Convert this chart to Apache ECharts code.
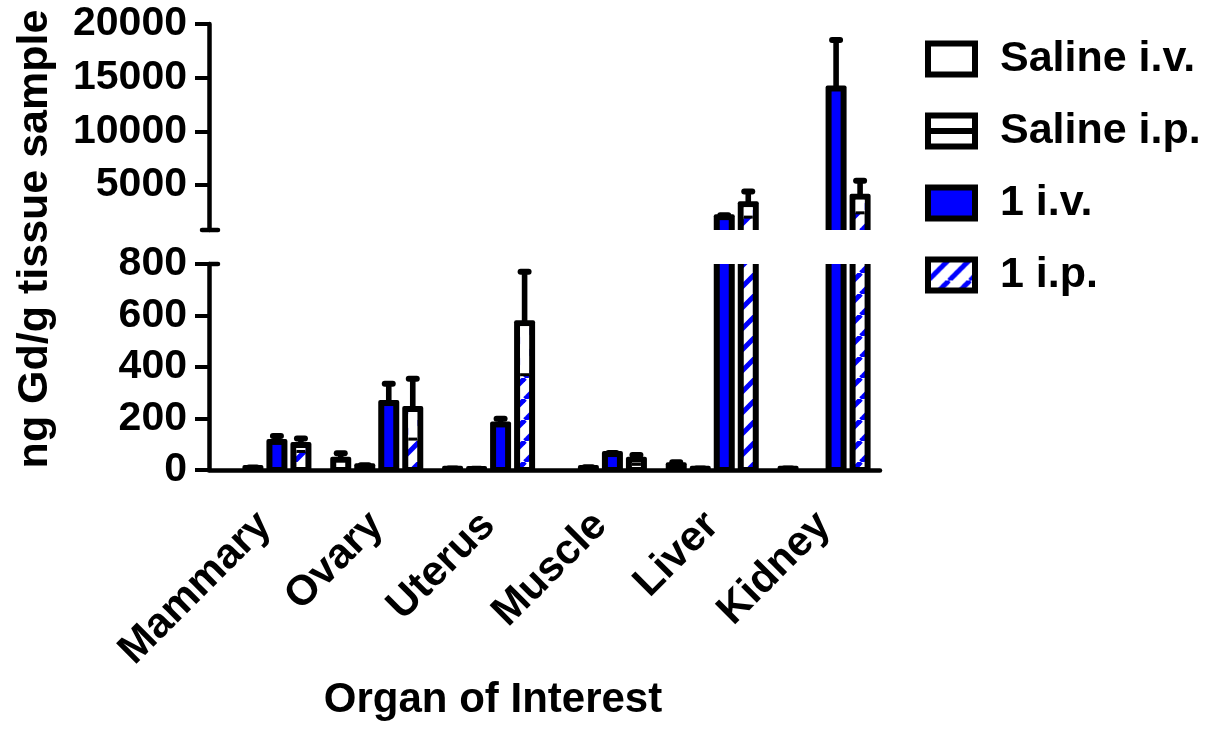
<!DOCTYPE html>
<html>
<head>
<meta charset="utf-8">
<script src="https://cdn.jsdelivr.net/npm/echarts@6/dist/echarts.min.js"></script>
<style>
html,body{margin:0;padding:0;background:#fff;}
#chart{width:1207px;height:729px;}
</style>
</head>
<body>
<div id="chart"></div>
<script>
// ---- data ----
var categories = ['Mammary', 'Ovary', 'Uterus', 'Muscle', 'Liver', 'Kidney'];
var seriesNames = ['Saline i.v.', 'Saline i.p.', '1 i.v.', '1 i.p.'];
var salineIV   = [0, 40, 5, 0, 18, 5];
var salineIVsd = [0, 25, 1, 0, 12, 1];
var salineIP   = [8, 15, 4, 8, 5, 0];
var salineIPsd = [2, 3, 1, 3, 1, 0];
var oneIV      = [109, 260, 177, 62, 2000, 14000];
var oneIVsd    = [23, 75, 22, 4, 180, 4500];
var oneIP      = [97, 237, 570, 40, 3200, 3900];
var oneIPsd    = [25, 117, 200, 18, 1200, 1500];
var topTicks    = [5000, 10000, 15000, 20000];
var bottomTicks = [0, 200, 400, 600, 800];

// ---- hatch pattern ----
var FONT = 'Liberation Sans, Arial, Helvetica, sans-serif';
var BLUE = '#0000ff';
function makeHatch() {
  var s = 21;
  var c = document.createElement('canvas');
  c.width = s; c.height = s;
  var g = c.getContext('2d');
  g.fillStyle = '#fff';
  g.fillRect(0, 0, s, s);
  g.strokeStyle = BLUE;
  g.lineWidth = 5;
  for (var k = -1; k <= 1; k++) {
    g.beginPath();
    g.moveTo(k * s, s);
    g.lineTo(k * s + s, 0);
    g.stroke();
  }
  return { image: c, repeat: 'repeat' };
}
var hatch = makeHatch();

var fills = ['#ffffff', '#ffffff', BLUE, hatch];
var values = [salineIV, salineIP, oneIV, oneIP];
var sds = [salineIVsd, salineIPsd, oneIVsd, oneIPsd];

var BAR_FRAC = 15 / 111.8;
var STEP_FRAC = 24 / 111.8;
var BW = 6;        // bar border
var STEM = 5.6;    // error stem width

function barSeries(idx, gridIdx, yMin) {
  var fill = fills[idx];
  return {
    type: 'custom',
    name: seriesNames[idx],
    xAxisIndex: gridIdx,
    yAxisIndex: gridIdx,
    clip: true,
    z: 2,
    itemStyle: { color: idx === 3 ? BLUE : fill, borderColor: '#000', borderWidth: BW },
    data: values[idx].map(function (v, i) { return [i, v, sds[idx][i]]; }),
    renderItem: function (params, api) {
      var cat = api.value(0), v = api.value(1), sd = api.value(2);
      if (v <= yMin) return null;
      var band = api.size([1, 0])[0];
      var barW = band * BAR_FRAC;
      var off = (idx - 1.5) * band * STEP_FRAC;
      var top = api.coord([cat, v]);
      var base = api.coord([cat, 0]);
      var cx = top[0] + off;
      var h = BW / 2;
      var children = [
        {
          type: 'rect',
          shape: { x: cx - barW / 2 - h, y: top[1] - h, width: barW + BW, height: base[1] - top[1] + BW, r: 2 },
          style: { fill: '#000' }
        },
        {
          type: 'rect',
          shape: { x: cx - barW / 2 + h, y: top[1] + h, width: barW - BW, height: Math.max(base[1] - top[1] - BW, 0) },
          style: { fill: fill }
        }
      ];
      var cs = params.coordSys;
      if (sd > 0 && top[1] >= cs.y - 0.5 && top[1] <= cs.y + cs.height + 0.5) {
        var up = api.coord([cat, v + sd])[1];
        var lo = api.coord([cat, Math.max(v - sd, 0)])[1];
        if (idx === 3) {
          children.push({
            type: 'rect',
            shape: { x: cx - barW / 2 + h, y: top[1] + h, width: barW - BW, height: Math.max(lo - top[1] - h, 0) },
            style: { fill: '#ffffff' }
          });
          children.push({
            type: 'rect',
            shape: { x: cx - barW / 2 + h, y: lo - 1.5, width: barW - BW, height: 3 },
            style: { fill: '#000' }
          });
        }
        children.push({
          type: 'rect',
          shape: { x: cx - STEM / 2, y: up, width: STEM, height: top[1] - up },
          style: { fill: '#000' }
        });
        children.push({
          type: 'rect',
          shape: { x: cx - 7, y: up - 3, width: 14, height: 6, r: 3 },
          style: { fill: '#000' }
        });
      }
      return { type: 'group', children: children };
    }
  };
}

// axis break marks (short segments at the break ends of the y axis)
function breakSeries(gridIdx) {
  return {
    type: 'custom',
    xAxisIndex: gridIdx,
    yAxisIndex: gridIdx,
    silent: true,
    z: 5,
    data: [[0]],
    renderItem: function (params, api) {
      var cs = params.coordSys;
      var y = gridIdx === 0 ? cs.y + cs.height : cs.y;
      var x1 = gridIdx === 0 ? cs.x - 7 : cs.x;
      return {
        type: 'line',
        shape: { x1: x1, y1: y, x2: cs.x + 9, y2: y },
        style: { stroke: '#000', lineWidth: 4.5, lineCap: 'round' }
      };
    }
  };
}

var axisLineStyle = { color: '#000', width: 4.5 };
var labelStyle = { color: '#000', fontFamily: FONT, fontWeight: 'bold', fontSize: 41 };
function plain(v) { return String(v); }

var series = [];
var mins = [800, 0];
for (var g = 0; g < 2; g++) {
  for (var s = 0; s < 4; s++) series.push(barSeries(s, g, mins[g]));
  series.push(breakSeries(g));
}

var option = {
  backgroundColor: '#ffffff',
  animation: false,
  grid: [
    { left: 209, top: 24, width: 671, height: 206 },
    { left: 209, top: 264, width: 671, height: 206 }
  ],
  xAxis: [
    { type: 'category', gridIndex: 0, data: categories, show: false },
    {
      type: 'category', gridIndex: 1, data: categories,
      axisLine: { lineStyle: axisLineStyle },
      axisTick: { alignWithLabel: true, length: 12, lineStyle: { color: '#000', width: 4 } },
      axisLabel: Object.assign({}, labelStyle, { rotate: 45, margin: 49, interval: 0, fontSize: 42 })
    }
  ],
  yAxis: [
    {
      type: 'value', gridIndex: 0, min: 800, max: 20000,
      splitLine: { show: false },
      axisLine: { show: true, lineStyle: axisLineStyle },
      axisTick: { show: true, length: 14, customValues: topTicks, lineStyle: { color: '#000', width: 4 } },
      axisLabel: Object.assign({ margin: 22, customValues: topTicks, formatter: plain }, labelStyle)
    },
    {
      type: 'value', gridIndex: 1, min: 0, max: 800, interval: 200,
      splitLine: { show: false },
      axisLine: { show: true, lineStyle: axisLineStyle },
      axisTick: { show: true, length: 14, lineStyle: { color: '#000', width: 4 } },
      axisLabel: Object.assign({ margin: 22, formatter: plain }, labelStyle)
    }
  ],
  legend: {
    orient: 'vertical',
    left: 925,
    top: 37,
    padding: 0,
    itemWidth: 47,
    itemHeight: 31,
    itemGap: 28,
    selectedMode: false,
    textStyle: { color: '#000', fontFamily: FONT, fontWeight: 'bold', fontSize: 43, lineHeight: 44, padding: [0, 0, 0, 20] },
    data: [
      { name: 'Saline i.v.', icon: 'rect', itemStyle: { color: '#fff', borderColor: '#000', borderWidth: 6 } },
      { name: 'Saline i.p.', icon: 'path://M0,0L47,0L47,31L0,31Z M0,15.5L47,15.5', itemStyle: { color: '#fff', borderColor: '#000', borderWidth: 6 } },
      { name: '1 i.v.', icon: 'rect', itemStyle: { color: BLUE, borderColor: '#000', borderWidth: 6 } },
      { name: '1 i.p.', icon: 'rect', itemStyle: { color: hatch, borderColor: '#000', borderWidth: 6 } }
    ]
  },
  graphic: [
    {
      type: 'text', x: 35, y: 239, rotation: Math.PI / 2,
      style: { text: 'ng Gd/g tissue sample', font: 'bold 43px ' + FONT, fill: '#000', textAlign: 'center', textVerticalAlign: 'middle' }
    },
    {
      type: 'text', x: 493, y: 700,
      style: { text: 'Organ of Interest', font: 'bold 42px ' + FONT, fill: '#000', textAlign: 'center', textVerticalAlign: 'middle' }
    }
  ],
  series: series
};

var chart = echarts.init(document.getElementById('chart'));
chart.setOption(option);
</script>
</body>
</html>
